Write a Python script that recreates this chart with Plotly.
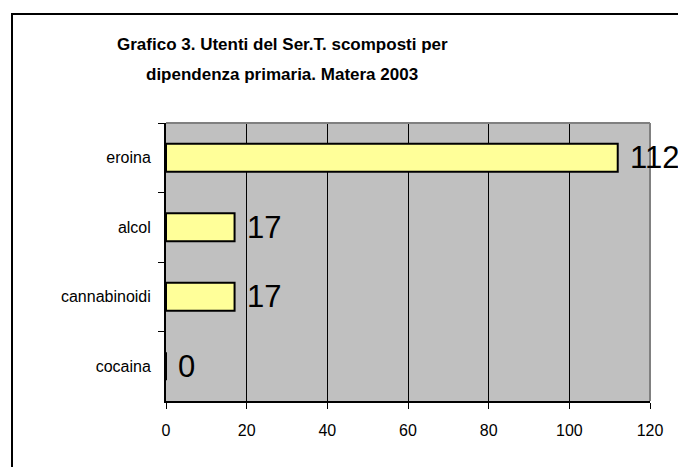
import plotly.graph_objects as go

categories = ["eroina", "alcol", "cannabinoidi", "cocaina"]
values = [112, 17, 17, 0]
x_ticks = [0, 20, 40, 60, 80, 100, 120]
title_lines = ["Grafico 3. Utenti del Ser.T. scomposti per", "dipendenza primaria. Matera 2003"]

W, H = 678, 467
L, R, T, B = 166, 28, 123, 66
pw, ph = W - L - R, H - T - B

def px_x(px):
    return (px - L) / pw

def px_y(py):
    return (H - B - py) / ph

FONT = "Liberation Sans, Arial, sans-serif"

fig = go.Figure()
fig.add_trace(go.Bar(
    x=values, y=categories, orientation="h",
    marker=dict(color="#FFFF99", line=dict(color="black", width=2)),
    hoverinfo="skip",
))

for c, v in zip(categories, values):
    fig.add_annotation(x=v, y=c, text=str(v), showarrow=False,
                       xanchor="left", yanchor="middle", xshift=10,
                       font=dict(family=FONT, size=31, color="black"))

# title, two lines placed individually
for line, cy in zip(title_lines, [45, 74]):
    fig.add_annotation(xref="paper", yref="paper", x=px_x(282), y=px_y(cy),
                       text="<b>" + line + "</b>", showarrow=False,
                       xanchor="center", yanchor="middle",
                       font=dict(family=FONT, size=17, color="black"))

shapes = [
    dict(type="line", xref="x domain", yref="y domain", x0=0, x1=1, y0=1, y1=1,
         line=dict(color="#808080", width=2)),
    dict(type="line", xref="x domain", yref="y domain", x0=1, x1=1, y0=0, y1=1,
         line=dict(color="#808080", width=2)),
    dict(type="line", xref="paper", yref="paper", x0=px_x(12), x1=px_x(12), y0=px_y(13), y1=px_y(470),
         line=dict(color="black", width=2)),
    dict(type="line", xref="paper", yref="paper", x0=px_x(11), x1=px_x(690), y0=px_y(14), y1=px_y(14),
         line=dict(color="black", width=2)),
]

fig.update_layout(
    width=W, height=H,
    margin=dict(l=L, r=R, t=T, b=B, pad=0),
    paper_bgcolor="white", plot_bgcolor="#C0C0C0",
    showlegend=False,
    bargap=0.6,
    shapes=shapes,
    font=dict(family=FONT, color="black"),
    xaxis=dict(range=[0, 120], tickvals=x_ticks, ticktext=[str(t) for t in x_ticks],
               showgrid=True, gridcolor="black", gridwidth=1,
               showline=True, linecolor="black", linewidth=2,
               ticks="outside", ticklen=6, tickcolor="black", tickwidth=1,
               ticklabelstandoff=8,
               tickfont=dict(family=FONT, size=16, color="black"),
               zeroline=False, fixedrange=True),
    yaxis=dict(categoryorder="array", categoryarray=categories, autorange="reversed",
               showgrid=False, showline=True, linecolor="black", linewidth=2,
               ticks="outside", ticklen=6, tickcolor="black", tickwidth=1,
               tickson="boundaries", ticklabelstandoff=10,
               tickfont=dict(family=FONT, size=16, color="black"),
               zeroline=False, fixedrange=True),
)

fig.write_html("out.html", config={"displayModeBar": False},
               post_script="document.body.style.margin='0';")
